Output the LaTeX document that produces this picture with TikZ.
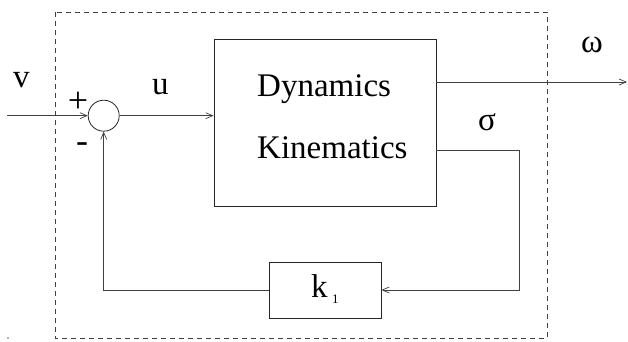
\documentclass[tikz,border=0pt]{standalone}
\usepackage{fontspec}
\setmainfont{Liberation Serif}
\usetikzlibrary{arrows.meta}
\begin{document}
\begin{tikzpicture}[x=1pt,y=-1pt,
  wire/.style={draw=black!75,line width=0.8pt},
  arr/.style={wire,-{Straight Barb[length=7pt,width=6pt,line width=0.7pt]}},
  lbl/.style={anchor=base west,inner sep=0pt,font=\fontsize{33}{40}\selectfont}]
\useasboundingbox (0,0) rectangle (628,342);
% dashed frame
\draw[draw=black!75,line width=0.7pt,dash pattern=on 5pt off 4pt] (55,12) rectangle (547,338);
% blocks
\node[draw=black!85,line width=0.8pt,minimum width=222pt,minimum height=167pt,inner sep=0pt] (dk) at (325,122.5) {};
\node[draw=black!85,line width=0.8pt,minimum width=112pt,minimum height=56pt,inner sep=0pt] (k) at (325,290) {};
\node[draw=black!85,line width=0.8pt,circle,minimum size=31pt,inner sep=0pt] (s) at (103.7,115.7) {};
% coordinates
\coordinate (in) at (7,115.7);
\coordinate (out) at (627,82);
\coordinate (c1) at (519,150);
\coordinate (c2) at (519,290);
\coordinate (c3) at (103.7,290);
\coordinate (o1) at (436,82);
\coordinate (o2) at (436,150);
% connectors
\draw[arr] (in) -- (s.west);
\draw[arr] (s.east) -- (dk.west |- s.east);
\draw[arr] (o1) -- (out);
\draw[arr] (o2) -- (c1) -- (c2) -- (k.east);
\draw[arr] (k.west) -- (c3) -- (s.south);
% labels
\node[lbl] (tdyn) at (257,96) {Dynamics};
\node[lbl] (tkin) at (257,158) {Kinematics};
\node[lbl] (tv) at (13,88) {v};
\node[lbl] (tu) at (152,95) {u};
\node[inner sep=0pt,font=\fontsize{36}{40}\selectfont] (tp) at (78,102) {+};
\node[inner sep=0pt,font=\fontsize{36}{40}\selectfont] (tm) at (82,148) {-};
\node[lbl] (tw) at (581,53) {ω};
\node[lbl] (ts) at (478,130) {σ};
\node[lbl] (tk) at (311,297) {k};
\node[anchor=base west,inner sep=0pt,font=\fontsize{13}{14}\selectfont] (t1) at (332,303) {1};
\fill[black!60] (8,338) circle (0.8pt);
\end{tikzpicture}
\end{document}
